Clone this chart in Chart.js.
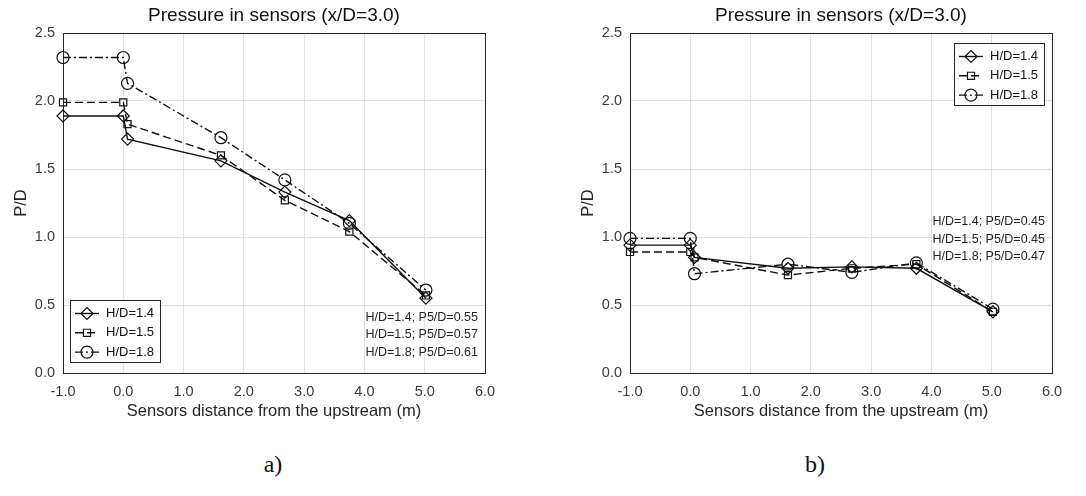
<!DOCTYPE html>
<html>
<head>
<meta charset="utf-8">
<title>Pressure in sensors</title>
<script src="https://cdn.jsdelivr.net/npm/chart.js@4.4.1/dist/chart.umd.min.js"></script>
<style>
  html, body { margin: 0; padding: 0; background: #fff; }
  body { width: 1086px; height: 496px; position: relative; overflow: hidden; }
  .panel { position: absolute; top: 0; width: 543px; height: 425px; }
  .tag {
    position: absolute; top: 451px; transform: translateX(-50%);
    font-family: 'Liberation Serif', 'Times New Roman', serif; font-size: 24px; color: #111;
  }
</style>
</head>
<body>
<div class="panel" style="left:0"><canvas id="chart-a" width="543" height="425"></canvas></div>
<div class="panel" style="left:543px"><canvas id="chart-b" width="543" height="425"></canvas></div>
<div class="tag" style="left:273px">a)</div>
<div class="tag" style="left:815px">b)</div>

<script>
// ── Data ───────────────────────────────────────────────────────────────────
const chartTitle   = 'Pressure in sensors (x/D=3.0)';
const xAxisTitle   = 'Sensors distance from the upstream (m)';
const yAxisTitle   = 'P/D';
const seriesLabels = ['H/D=1.4', 'H/D=1.5', 'H/D=1.8'];
const sensorX      = [-1.0, 0.0, 0.07, 1.62, 2.68, 3.75, 5.02];
const xTicks       = [-1, 0, 1, 2, 3, 4, 5, 6];
const yTicks       = [0, 0.5, 1.0, 1.5, 2.0, 2.5];

// panel a)
const pdA_14 = [1.89, 1.89, 1.72, 1.56, 1.33, 1.12, 0.55];
const pdA_15 = [1.99, 1.99, 1.83, 1.60, 1.27, 1.04, 0.57];
const pdA_18 = [2.32, 2.32, 2.13, 1.73, 1.42, 1.10, 0.61];
const notesA = ['H/D=1.4; P5/D=0.55', 'H/D=1.5; P5/D=0.57', 'H/D=1.8; P5/D=0.61'];

// panel b)
const pdB_14 = [0.94, 0.94, 0.85, 0.77, 0.78, 0.77, 0.45];
const pdB_15 = [0.89, 0.89, 0.85, 0.72, 0.77, 0.80, 0.45];
const pdB_18 = [0.99, 0.99, 0.73, 0.80, 0.74, 0.81, 0.47];
const notesB = ['H/D=1.4; P5/D=0.45', 'H/D=1.5; P5/D=0.45', 'H/D=1.8; P5/D=0.47'];

// ── Styling ────────────────────────────────────────────────────────────────
const FONT = "'Liberation Sans', Arial, sans-serif";
const INK  = '#111';
const seriesStyle = [
  { dash: [],           point: 'rectRot', r: 6 },
  { dash: [8, 4],       point: 'rect',    r: 5 },
  { dash: [8, 3, 2, 3], point: 'circle',  r: 6 },
];

function makeDatasets(ys) {
  return ys.map((vals, i) => ({
    label: seriesLabels[i],
    data: vals.map((v, k) => ({ x: sensorX[k], y: v })),
    borderColor: INK,
    borderWidth: 1.4,
    borderDash: seriesStyle[i].dash,
    pointStyle: seriesStyle[i].point,
    pointRadius: seriesStyle[i].r,
    pointBorderWidth: 1.2,
    pointBorderColor: INK,
    pointBackgroundColor: 'rgba(0,0,0,0)',
    tension: 0,
    clip: false,
  }));
}

function marker(ctx, style, r, x, y) {
  ctx.beginPath();
  if (style === 'circle') {
    ctx.arc(x, y, r, 0, Math.PI * 2);
  } else if (style === 'rect') {
    const s = r * Math.SQRT1_2;
    ctx.rect(x - s, y - s, 2 * s, 2 * s);
  } else {
    ctx.moveTo(x, y - r); ctx.lineTo(x + r, y); ctx.lineTo(x, y + r); ctx.lineTo(x - r, y);
    ctx.closePath();
  }
  ctx.stroke();
}

// frame, title, inner legend and P5 notes
const panelDecor = {
  id: 'panelDecor',
  beforeDatasetsDraw(chart) {
    const { ctx, chartArea: a } = chart;
    ctx.save();
    ctx.strokeStyle = '#262626';
    ctx.lineWidth = 1;
    ctx.strokeRect(Math.round(a.left) + 0.5, Math.round(a.top) + 0.5,
                   Math.round(a.right - a.left), Math.round(a.bottom - a.top));
    ctx.restore();
  },
  afterDraw(chart, args, opts) {
    const { ctx, chartArea: a } = chart;
    ctx.save();

    // title
    ctx.fillStyle = '#111';
    ctx.font = `19px ${FONT}`;
    ctx.textAlign = 'center';
    ctx.textBaseline = 'middle';
    ctx.fillText(chartTitle, (a.left + a.right) / 2, 16);

    // notes
    ctx.font = `12.5px ${FONT}`;
    ctx.fillStyle = '#262626';
    ctx.textAlign = 'right';
    const ny = chart.scales.y.getPixelForValue(opts.noteY);
    opts.notes.forEach((t, i) => ctx.fillText(t, a.right - 7, ny + i * 17.5));

    // legend box
    const bw = 90, bh = 62;
    const bx = opts.legendAt === 'bl' ? a.left + 7 : a.right - 8 - bw;
    const by = opts.legendAt === 'bl' ? a.bottom - 11 - bh : a.top + 10;
    ctx.fillStyle = '#fff';
    ctx.fillRect(bx, by, bw, bh);
    ctx.strokeStyle = '#262626';
    ctx.lineWidth = 1;
    ctx.strokeRect(Math.round(bx) + 0.5, Math.round(by) + 0.5, bw, bh);

    ctx.font = `13px ${FONT}`;
    ctx.textAlign = 'left';
    chart.data.datasets.forEach((ds, i) => {
      const y = by + 13.5 + i * 19.3;
      ctx.strokeStyle = INK;
      ctx.lineWidth = 1.4;
      ctx.setLineDash(ds.borderDash);
      ctx.beginPath(); ctx.moveTo(bx + 5, y); ctx.lineTo(bx + 29, y); ctx.stroke();
      ctx.setLineDash([]);
      ctx.lineWidth = 1.2;
      marker(ctx, ds.pointStyle, ds.pointRadius, bx + 17, y);
      ctx.fillStyle = '#111';
      ctx.fillText(ds.label, bx + 36, y);
    });
    ctx.restore();
  },
};

function makeChart(id, ys, cfg) {
  return new Chart(document.getElementById(id), {
    type: 'line',
    data: { datasets: makeDatasets(ys) },
    plugins: [panelDecor],
    options: {
      responsive: false,
      animation: false,
      events: [],
      layout: { padding: { top: 33, left: cfg.padLeft, right: cfg.padRight, bottom: 0 } },
      plugins: {
        legend: { display: false },
        tooltip: { enabled: false },
        title: { display: false },
        panelDecor: { notes: cfg.notes, noteY: cfg.noteY, legendAt: cfg.legendAt },
      },
      scales: {
        x: {
          type: 'linear', min: -1, max: 6,
          afterFit: s => { s.height = 52; },
          afterBuildTicks: s => { s.ticks = xTicks.map(v => ({ value: v })); },
          grid: { color: '#e2e2e2', drawTicks: false },
          border: { display: false },
          ticks: {
            autoSkip: false, maxRotation: 0, padding: 10, color: '#3a3a3a',
            font: { family: FONT, size: 14.5 },
            callback: v => Number(v).toFixed(1),
          },
          title: {
            display: true, text: xAxisTitle, color: '#262626',
            font: { family: FONT, size: 16.5 }, padding: { top: 0, bottom: 4 },
          },
        },
        y: {
          min: 0, max: 2.5,
          afterFit: s => { s.width = 63; },
          afterBuildTicks: s => { s.ticks = yTicks.map(v => ({ value: v })); },
          grid: { color: '#e2e2e2', drawTicks: false },
          border: { display: false },
          ticks: {
            padding: 8, color: '#3a3a3a',
            font: { family: FONT, size: 14.5 },
            callback: v => Number(v).toFixed(1),
          },
          title: {
            display: true, text: yAxisTitle, color: '#262626',
            font: { family: FONT, size: 16.5 }, padding: { top: 12, bottom: 0 },
          },
        },
      },
    },
  });
}

makeChart('chart-a', [pdA_14, pdA_15, pdA_18],
  { padLeft: 0, padRight: 58, notes: notesA, noteY: 0.41, legendAt: 'bl' });
makeChart('chart-b', [pdB_14, pdB_15, pdB_18],
  { padLeft: 24, padRight: 34, notes: notesB, noteY: 1.11, legendAt: 'tr' });
</script>
</body>
</html>
